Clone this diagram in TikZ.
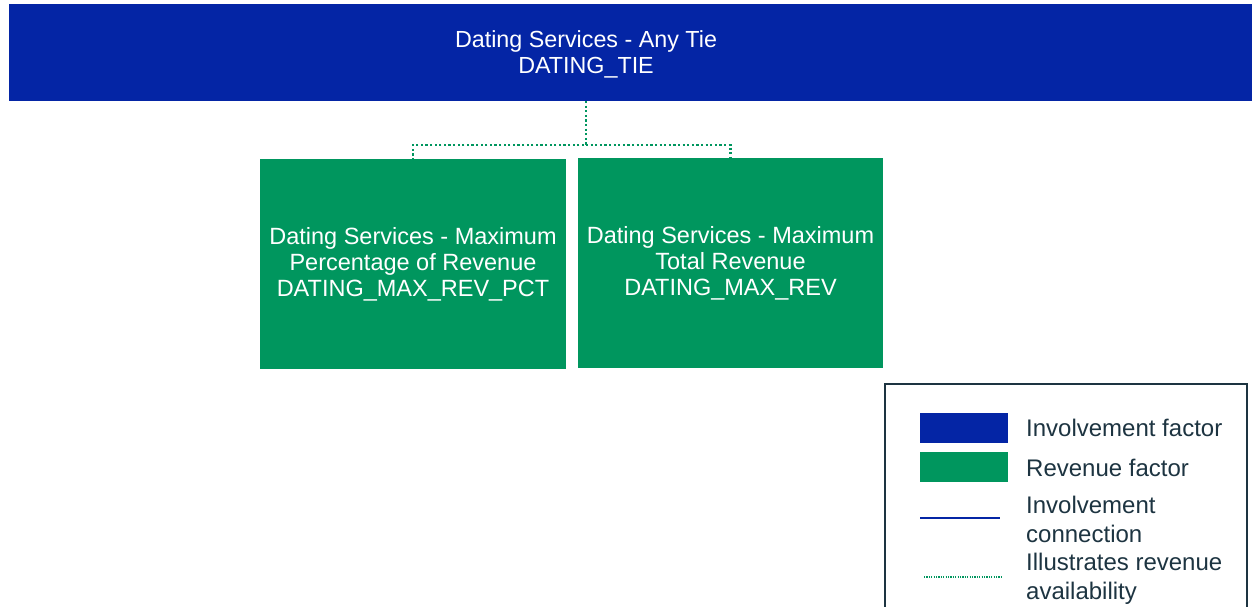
\documentclass[tikz,border=0pt]{standalone}
\usepackage{fontspec}
\setmainfont{Liberation Sans}
\usetikzlibrary{positioning}
\definecolor{involveblue}{HTML}{0425A5}
\definecolor{revgreen}{HTML}{00965E}
\definecolor{legendink}{HTML}{1D3441}
\tikzset{
  involvebox/.style={fill=involveblue, text=white, align=center, inner sep=0pt},
  revbox/.style={fill=revgreen, text=white, align=center, inner sep=0pt, minimum width=306pt, minimum height=210pt, font=\fontsize{23.5}{26}\selectfont},
  revline/.style={draw=revgreen, line width=2.2pt, dash pattern=on 2.2pt off 2.4pt},
  legendtext/.style={anchor=west, align=left, text=legendink, inner sep=0pt, font=\fontsize{24}{29}\selectfont}
}

\begin{document}
\begin{tikzpicture}[x=1pt,y=-1pt]
    \useasboundingbox (0,0) rectangle (1252,607);

    % Involvement factor
    \fill[involveblue] (9,4) rectangle (1252,101);
    \node[involvebox, font=\fontsize{23.3}{26}\selectfont] (datingtie) at (586,54) {Dating Services - Any Tie\\DATING\_TIE};
    \coordinate (tiebottom) at (586,101);

    % Revenue factors
    \node[revbox] (maxrevpct) at (413,264) {Dating Services - Maximum\\Percentage of Revenue\\DATING\_MAX\_REV\_PCT};
    \node[revbox, minimum width=305pt] (maxrev) at (730.5,263) {Dating Services - Maximum\\Total Revenue\\DATING\_MAX\_REV};

    % Revenue availability
    \draw[revline] (tiebottom) -- (586,145) -| ([yshift=-5pt]maxrevpct.north);
    \draw[revline] (586,145) -| ([yshift=-5pt]maxrev.north);

    % Legend
    \draw[legendink, line width=1.6pt] (885,384) rectangle (1247,620);
    \node[involvebox, minimum width=88pt, minimum height=30pt] (keyinvolve) at (964,428) {};
    \node[revbox, minimum width=88pt, minimum height=30pt] (keyrevenue) at (964,467) {};
    \coordinate (keyconnA) at (920,518);
    \coordinate (keyconnB) at (1000,518);
    \draw[involveblue, line width=1.5pt] (keyconnA) -- (keyconnB);
    \coordinate (keyavailA) at (924,577);
    \coordinate (keyavailB) at (1003,577);
    \draw[revline, line width=1.2pt, dash pattern=on 1.2pt off 1.2pt] (keyavailA) -- (keyavailB);
    \node[legendtext] (txtinvolve) at (1026,428) {Involvement factor};
    \node[legendtext] (txtrevenue) at (1026,468) {Revenue factor};
    \node[legendtext] (txtconn) at (1026,519) {Involvement\\connection};
    \node[legendtext] (txtavail) at (1026,579) {Illustrates revenue\\availability};
\end{tikzpicture}
\end{document}
